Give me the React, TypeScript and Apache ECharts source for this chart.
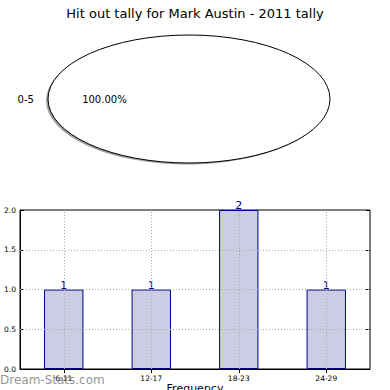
import React, { useEffect, useRef } from "react";
import * as echarts from "echarts";

const titleText = "Hit out tally for Mark Austin - 2011 tally";
const pieLabels = ["0-5"];
const pieValues = [1];
const categories = ["6-11", "12-17", "18-23", "24-29"];
const frequencies = [1, 1, 2, 1];
const yTicks = [0.5, 1.0, 1.5];
const xAxisName = "Frequency";
const watermark = "Dream-Stats.com";

const FONT = "DejaVu Sans";

export default function App() {
  const ref = useRef<HTMLDivElement>(null);
  useEffect(() => {
    if (!ref.current) return;
    const chart = echarts.init(ref.current, null, { renderer: "svg" });
    const total = pieValues.reduce((a, b) => a + b, 0);
    const cx = 189, cy = 99, rx = 141, ry = 64;
    const slicePath = (ox: number, oy: number, a0: number, a1: number) => {
      const X = (a: number) => ox + rx * Math.cos(a);
      const Y = (a: number) => oy - ry * Math.sin(a);
      if (a1 - a0 >= Math.PI * 2 - 1e-6) {
        return `M ${ox + rx} ${oy} A ${rx} ${ry} 0 1 0 ${ox - rx} ${oy} A ${rx} ${ry} 0 1 0 ${ox + rx} ${oy} Z`;
      }
      const large = a1 - a0 > Math.PI ? 1 : 0;
      return `M ${ox} ${oy} L ${X(a0)} ${Y(a0)} A ${rx} ${ry} 0 ${large} 0 ${X(a1)} ${Y(a1)} Z`;
    };
    const option: any = {
      animation: false,
      title: {
        text: titleText,
        left: "center",
        top: 2,
        textStyle: { fontFamily: FONT, fontSize: 13, fontWeight: "normal", color: "#000" },
      },
      graphic: [
        {
          type: "text",
          left: 0,
          top: 374,
          z: 100,
          style: { text: watermark, fontFamily: FONT, fontSize: 12, fill: "rgba(120,120,120,0.8)" },
        },
      ],
      grid: {
        left: 20,
        right: 20,
        top: 210,
        bottom: 21,
        outerBoundsMode: "none",
        containLabel: false,
        show: true,
        borderColor: "#000",
        borderWidth: 1,
        backgroundColor: "transparent",
      },
      xAxis: [
        {
          type: "category",
          data: categories,
          position: "bottom",
          name: xAxisName,
          nameLocation: "middle",
          nameGap: 14,
          nameTextStyle: { fontFamily: FONT, fontSize: 11, color: "#000" },
          axisLine: { show: true, lineStyle: { color: "#000" } },
          axisTick: { show: true, inside: true, alignWithLabel: true, length: 4, lineStyle: { color: "#000" } },
          axisLabel: { fontFamily: FONT, fontSize: 7.5, color: "#000", margin: 5 },
          splitLine: { show: false },
        },
        {
          type: "category",
          data: categories,
          position: "top",
          axisLine: { show: false },
          axisTick: { show: true, inside: true, alignWithLabel: true, length: 4, lineStyle: { color: "#000" } },
          axisLabel: { show: false },
          splitLine: { show: false },
        },
      ],
      yAxis: [
        {
          type: "value",
          min: 0,
          max: 2,
          interval: 0.5,
          position: "left",
          axisLine: { show: true, lineStyle: { color: "#000" } },
          axisTick: { show: true, inside: true, length: 4, lineStyle: { color: "#000" } },
          axisLabel: {
            fontFamily: FONT,
            fontSize: 7.5,
            color: "#000",
            margin: 4,
            formatter: (v: number) => v.toFixed(1),
          },
          splitLine: { show: false },
        },
        {
          type: "value",
          min: 0,
          max: 2,
          interval: 0.5,
          position: "right",
          axisLine: { show: false },
          axisTick: { show: true, inside: true, length: 4, lineStyle: { color: "#000" } },
          axisLabel: { show: false },
          splitLine: { show: false },
        },
      ],
      series: [
        {
          type: "custom",
          coordinateSystem: "none",
          silent: true,
          data: pieValues.map((v, i) => ({ value: v, name: pieLabels[i] })),
          renderItem: (params: any, api: any) => {
            const idx = params.dataIndex;
            let before = 0;
            for (let k = 0; k < idx; k++) before += pieValues[k];
            const v = api.value(0);
            const a0 = (before / total) * Math.PI * 2;
            const a1 = ((before + v) / total) * Math.PI * 2;
            const mid = (a0 + a1) / 2;
            const lx = cx + 1.1 * rx * Math.cos(mid);
            const ly = cy - 1.1 * ry * Math.sin(mid);
            const px = cx + 0.6 * rx * Math.cos(mid);
            const py = cy - 0.6 * ry * Math.sin(mid);
            return {
              type: "group",
              children: [
                {
                  type: "path",
                  shape: { pathData: slicePath(cx - 2, cy + 1.5, a0, a1) },
                  style: { fill: "rgba(80,80,80,0.55)", stroke: "none" },
                },
                {
                  type: "path",
                  shape: { pathData: slicePath(cx, cy, a0, a1) },
                  style: { fill: "#fff", stroke: "#000", lineWidth: 1 },
                },
                {
                  type: "text",
                  style: {
                    x: lx,
                    y: ly,
                    text: pieLabels[idx],
                    fontFamily: FONT,
                    fontSize: 10,
                    fill: "#000",
                    align: Math.cos(mid) < 0 ? "right" : "left",
                    verticalAlign: "middle",
                  },
                },
                {
                  type: "text",
                  style: {
                    x: px,
                    y: py,
                    text: ((v / total) * 100).toFixed(2) + "%",
                    fontFamily: FONT,
                    fontSize: 10,
                    fill: "#000",
                    align: "center",
                    verticalAlign: "middle",
                  },
                },
              ],
            };
          },
        },
        {
          type: "bar",
          xAxisIndex: 0,
          yAxisIndex: 0,
          data: frequencies,
          barWidth: "45%",
          itemStyle: { color: "#ccccE5", borderColor: "#00008B", borderWidth: 1 },
          label: {
            show: true,
            position: "top",
            distance: -1,
            fontFamily: FONT,
            fontSize: 11,
            color: "#00008B",
          },
          markLine: {
            silent: true,
            symbol: "none",
            label: { show: false },
            lineStyle: { color: "#aaaaaa", type: [1, 2], width: 1 },
            data: [
              ...categories.map((c) => ({ xAxis: c })),
              ...yTicks.map((t) => ({ yAxis: t })),
            ],
          },
        },
      ],
    };
    chart.setOption(option);
    return () => chart.dispose();
  }, []);
  return (
    <div
      ref={ref}
      style={{ position: "fixed", left: 0, top: 0, width: 390, height: 390, background: "#fff" }}
    />
  );
}
